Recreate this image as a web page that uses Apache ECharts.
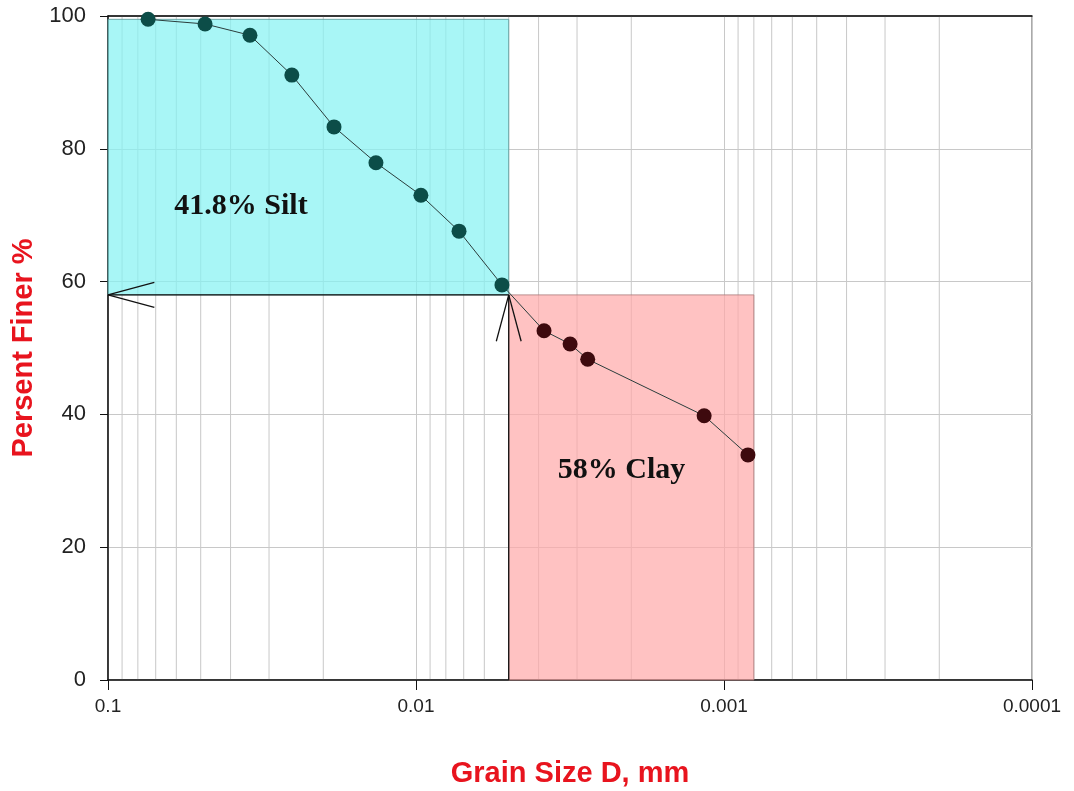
<!DOCTYPE html>
<html>
<head>
<meta charset="utf-8">
<script src="https://cdn.jsdelivr.net/npm/echarts@6/dist/echarts.min.js"></script>
<style>html,body{margin:0;padding:0;background:#fff;}#c{width:1074px;height:791px;}</style>
</head>
<body>
<div id="c"></div>
<script>
// Grain size (mm) and percent finer
var siltSize = [0.0741, 0.0484, 0.0346, 0.0253, 0.01846, 0.01349, 0.00964, 0.00725, 0.00526];
var siltFiner = [99.5, 98.8, 97.1, 91.1, 83.3, 77.9, 73.0, 67.6, 59.5];
var claySize = [0.00384, 0.00316, 0.00277, 0.00116, 0.000836];
var clayFiner = [52.6, 50.6, 48.3, 39.8, 33.9];

// Fraction boxes: [x from, x to, y from, y to]
var siltBox = [0.1, 0.005, 58, 99.5];
var clayBox = [0.005, 0.0008, 0, 58];
// Arrows: [x from, y from, x tip, y tip]
var arrows = [[0.005, 58, 0.1, 58], [0.005, 0, 0.005, 58]];
// Labels: [x, y, text]
var boxLabels = [[0.0370, 71.4, '41.8% Silt'], [0.00215, 31.6, '58% Clay']];

var xTickLabels = ['0.1', '0.01', '0.001', '0.0001'];
var xTickValues = [0.1, 0.01, 0.001, 0.0001];
// minor vertical grid: 2..9 times each decade
var minorMult = [2, 3, 4, 5, 6, 7, 8, 9];
var decades = [0.0001, 0.001, 0.01];

var minorGrid = [];
decades.forEach(function (d) { minorMult.forEach(function (m) { minorGrid.push([+(d * m).toPrecision(3), 0, 100]); }); });

function pairs(xs, ys) { return xs.map(function (x, i) { return [x, ys[i]]; }); }
var allPts = pairs(siltSize, siltFiner).concat(pairs(claySize, clayFiner));

var chart = echarts.init(document.getElementById('c'), null, { renderer: 'canvas' });

function boxRender(fill, stroke) {
  return function (params, api) {
    var p0 = api.coord([api.value(0), api.value(2)]);
    var p1 = api.coord([api.value(1), api.value(3)]);
    return {
      type: 'rect',
      shape: { x: Math.min(p0[0], p1[0]), y: Math.min(p0[1], p1[1]), width: Math.abs(p1[0] - p0[0]), height: Math.abs(p1[1] - p0[1]) },
      style: { fill: fill, stroke: stroke, lineWidth: 1 }
    };
  };
}

var labelFont = 'Liberation Sans, Arial, sans-serif';

chart.setOption({
  animation: false,
  backgroundColor: '#ffffff',
  grid: { left: 108, right: 42, top: 16, bottom: 111, show: true, borderColor: '#555', borderWidth: 1, backgroundColor: 'transparent', outerBoundsMode: 'none', containLabel: false },
  xAxis: [{
    type: 'log', logBase: 10, min: 0.0001, max: 0.1, inverse: true,
    name: 'Grain Size D, mm', nameLocation: 'middle', nameGap: 79,
    nameTextStyle: { color: '#e8141e', fontSize: 29, fontWeight: 'bold', fontFamily: labelFont },
    axisLine: { show: true, onZero: false, lineStyle: { color: '#111', width: 1.5 } },
    axisTick: { show: true, inside: false, length: 10, lineStyle: { color: '#111' } },
    axisLabel: {
      color: '#222', fontSize: 19, margin: 17, fontFamily: labelFont,
      formatter: function (v) {
        for (var i = 0; i < xTickValues.length; i++) { if (Math.abs(Math.log10(v) - Math.log10(xTickValues[i])) < 1e-6) return xTickLabels[i]; }
        return '';
      }
    },
    splitLine: { show: true, lineStyle: { color: '#c8c8c8', width: 1 } },
    minorTick: { show: false }, minorSplitLine: { show: false }
  }, {
    type: 'log', logBase: 10, min: 0.0001, max: 0.1, inverse: true, position: 'top',
    axisLine: { show: true, onZero: false, lineStyle: { color: '#111', width: 1.5 } },
    axisTick: { show: false }, axisLabel: { show: false }, splitLine: { show: false }
  }],
  yAxis: {
    type: 'value', min: 0, max: 100, interval: 20,
    name: 'Persent Finer %', nameLocation: 'middle', nameGap: 70,
    nameTextStyle: { color: '#e8141e', fontSize: 29, fontWeight: 'bold', fontFamily: labelFont },
    axisLine: { show: true, lineStyle: { color: '#111', width: 1.5 } },
    axisTick: { show: true, inside: false, length: 8, lineStyle: { color: '#111' } },
    axisLabel: { color: '#222', fontSize: 22, margin: 22, fontFamily: labelFont },
    splitLine: { show: true, showMaxLine: false, lineStyle: { color: '#c8c8c8', width: 1 } }
  },
  series: [
    {
      type: 'custom', name: 'minorGrid', coordinateSystem: 'cartesian2d', z: 0, silent: true,
      encode: { x: 0, y: [1, 2] },
      data: minorGrid,
      renderItem: function (params, api) {
        var a = api.coord([api.value(0), api.value(1)]);
        var b = api.coord([api.value(0), api.value(2)]);
        return { type: 'line', shape: { x1: a[0], y1: a[1], x2: b[0], y2: b[1] }, style: { stroke: '#c8c8c8', lineWidth: 1 } };
      }
    },
    {
      type: 'custom', name: 'siltBox', coordinateSystem: 'cartesian2d', z: 1, silent: true,
      renderItem: boxRender('rgba(135,242,242,0.72)', 'rgba(90,150,150,0.8)'),
      encode: { x: [0, 1], y: [2, 3] },
      data: [siltBox]
    },
    {
      type: 'custom', name: 'clayBox', coordinateSystem: 'cartesian2d', z: 1, silent: true,
      renderItem: boxRender('rgba(255,168,168,0.7)', 'rgba(170,120,120,0.8)'),
      encode: { x: [0, 1], y: [2, 3] },
      data: [clayBox]
    },
    {
      type: 'custom', name: 'arrows', coordinateSystem: 'cartesian2d', z: 5, silent: true, clip: false,
      encode: { x: [0, 2], y: [1, 3] },
      data: arrows,
      renderItem: function (params, api) {
        var a = api.coord([api.value(0), api.value(1)]);
        var b = api.coord([api.value(2), api.value(3)]);
        var dx = a[0] - b[0], dy = a[1] - b[1];
        var L = Math.sqrt(dx * dx + dy * dy); dx /= L; dy /= L;
        var ang = 15 * Math.PI / 180, len = 48;
        function rot(t) { return [b[0] + len * (dx * Math.cos(t) - dy * Math.sin(t)), b[1] + len * (dx * Math.sin(t) + dy * Math.cos(t))]; }
        var r1 = rot(ang), r2 = rot(-ang);
        var st = { stroke: '#111', lineWidth: 1.3, fill: null };
        return {
          type: 'group', children: [
            { type: 'line', shape: { x1: a[0], y1: a[1], x2: b[0], y2: b[1] }, style: st },
            { type: 'line', shape: { x1: b[0], y1: b[1], x2: r1[0], y2: r1[1] }, style: st },
            { type: 'line', shape: { x1: b[0], y1: b[1], x2: r2[0], y2: r2[1] }, style: st }
          ]
        };
      }
    },
    {
      type: 'line', name: 'curve', data: allPts, symbol: 'none', z: 6, silent: true,
      lineStyle: { color: '#2b3d3c', width: 1 }
    },
    {
      type: 'scatter', name: 'silt', data: pairs(siltSize, siltFiner), symbolSize: 15, z: 7,
      itemStyle: { color: '#0c4d48', opacity: 1 }
    },
    {
      type: 'scatter', name: 'clay', data: pairs(claySize, clayFiner), symbolSize: 15, z: 7,
      itemStyle: { color: '#3e0a0e', opacity: 1 }
    },
    {
      type: 'custom', name: 'labels', coordinateSystem: 'cartesian2d', z: 8, silent: true,
      encode: { x: 0, y: 1 },
      data: boxLabels,
      renderItem: function (params, api) {
        var p = api.coord([api.value(0), api.value(1)]);
        return {
          type: 'text', x: p[0], y: p[1],
          style: { text: boxLabels[params.dataIndex][2], fill: '#111', font: 'bold 30px "Liberation Serif", "Times New Roman", serif', align: 'center', verticalAlign: 'middle' }
        };
      }
    }
  ]
});
</script>
</body>
</html>
